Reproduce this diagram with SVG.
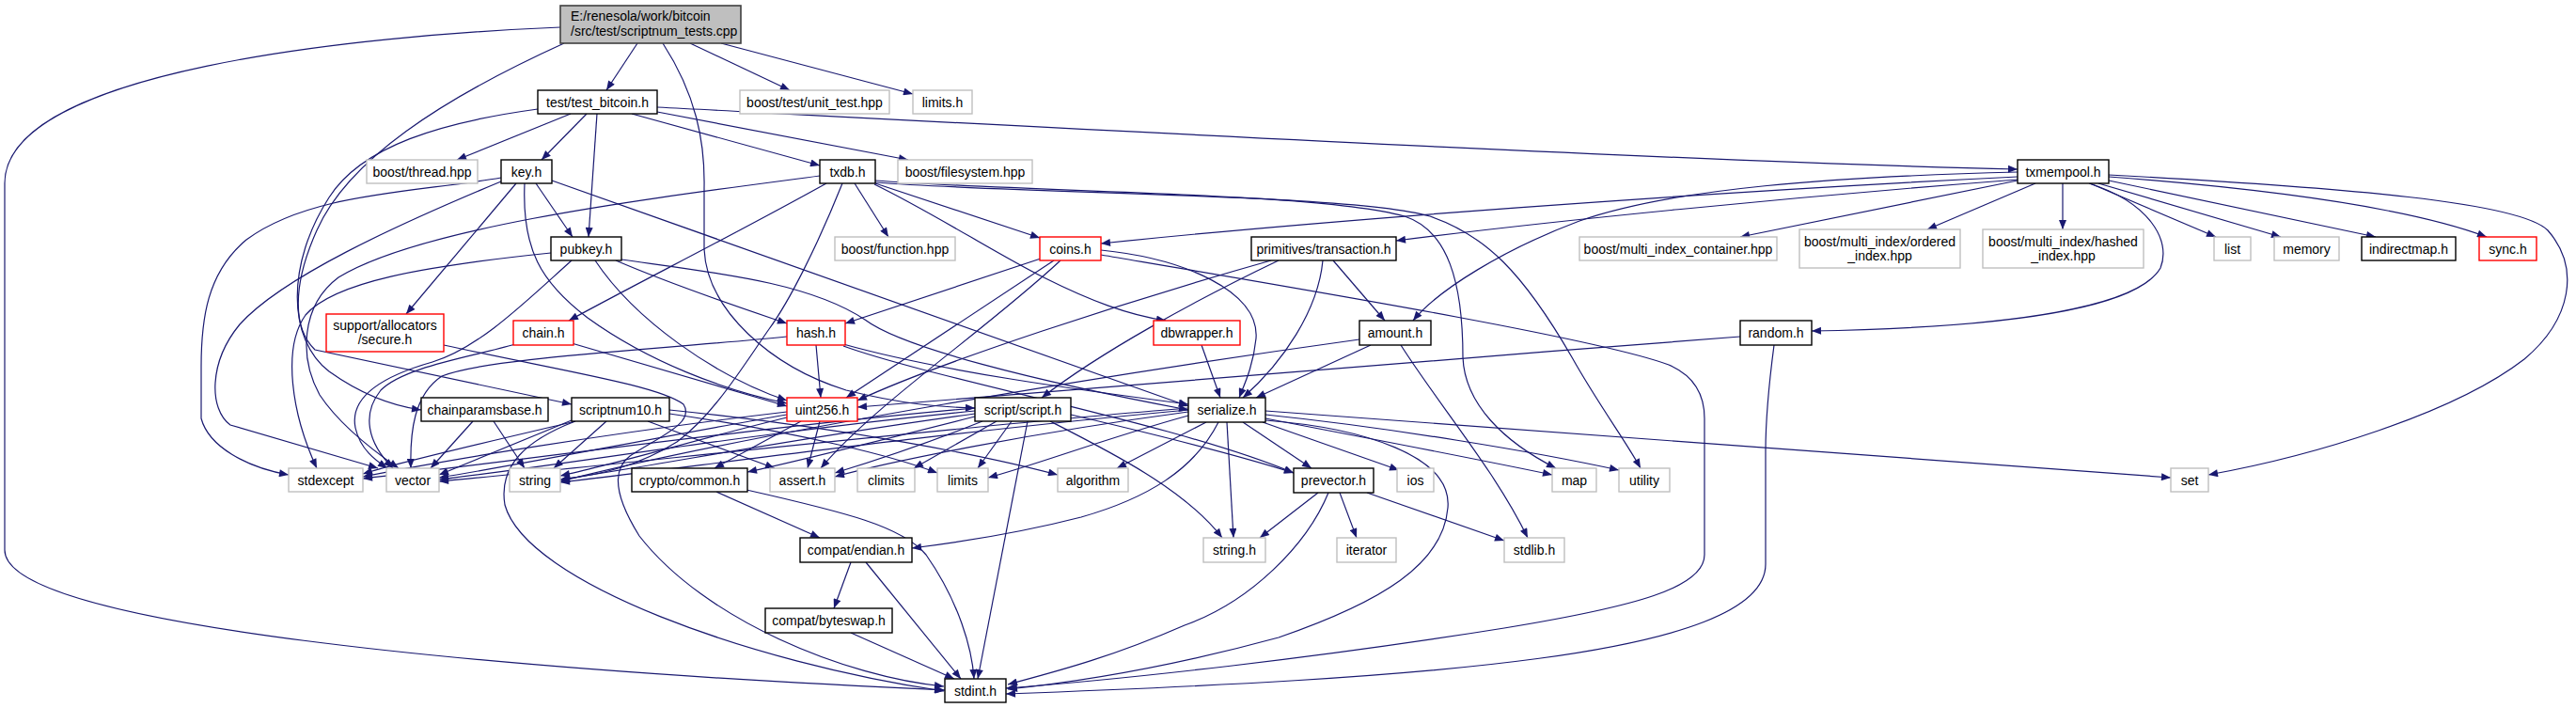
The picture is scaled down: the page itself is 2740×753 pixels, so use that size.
<svg xmlns="http://www.w3.org/2000/svg" width="2740" height="753" viewBox="0 0 2740 753">
<style>
rect{fill:#fff;stroke:#000;stroke-width:1.4}
.g rect{stroke:#bfbfbf}
.r rect{stroke:#ff0000}
.m rect{fill:#bfbfbf;stroke:#404040;stroke-width:1.6}
text{font-family:"Liberation Sans",Arial,sans-serif;font-size:14px;text-anchor:middle;fill:#000}
.m text{text-anchor:start}
#edges path{fill:none;stroke:#191970;stroke-width:1.2;marker-end:url(#a)}
</style>
<defs>
<marker id="a" viewBox="0 0 10 8" refX="10" refY="4" markerWidth="11" markerHeight="8" markerUnits="userSpaceOnUse" orient="auto"><path d="M0,0 L10,4 L0,8 z" fill="#191970"/></marker>
</defs>
<rect x="0" y="0" width="2740" height="753" style="fill:#fff;stroke:none"/>
<g id="edges">
<path d="M678,46 L645,96"/>
<path d="M734,46 L840,96"/>
<path d="M767,46 L971,100"/>
<path d="M596,29 C380,38 5,75 5,195 L5,585 C5,665 520,712 1005,734"/>
<path d="M600,46 C470,105 370,170 337,245 C310,305 312,350 335,372 L608,430"/>
<path d="M705,46 C740,100 750,150 749,200 L749,265 C752,330 820,390 900,415 C960,430 1000,433 1037,434"/>
<path d="M607,121 L486,170"/>
<path d="M624,121 L576,170"/>
<path d="M635,121 L626,252"/>
<path d="M672,121 L872,176"/>
<path d="M699,119 L966,170"/>
<path d="M699,114 C1200,140 1800,172 2146,180"/>
<path d="M572,116 C470,130 385,155 350,210 C305,280 305,360 350,395 C385,420 420,432 448,436"/>
<path d="M549,195 L432,334"/>
<path d="M570,195 L609,252"/>
<path d="M587,192 L1264,432"/>
<path d="M558,195 C555,265 575,300 625,338 C690,385 770,415 837,429"/>
<path d="M533,189 C440,205 330,205 262,255 C220,290 214,340 214,390 L214,445 C222,475 262,497 307,505"/>
<path d="M533,193 C420,240 300,295 255,345 C222,385 222,435 245,452 L402,498"/>
<path d="M655,277 C720,305 790,328 837,344"/>
<path d="M661,276 C760,290 860,300 920,340 C960,370 1100,405 1264,436"/>
<path d="M633,277 C675,340 760,400 837,426"/>
<path d="M586,269 C450,283 355,300 325,335 C300,370 310,440 337,498"/>
<path d="M608,277 C560,320 510,370 460,385 C400,402 372,425 378,455 C383,478 400,490 412,498"/>
<path d="M909,195 L945,252"/>
<path d="M931,195 L1106,253"/>
<path d="M930,196 C990,225 1060,270 1110,295 C1160,320 1200,335 1240,341"/>
<path d="M879,195 C780,250 680,300 605,341"/>
<path d="M931,192 C1100,205 1400,204 1494,230 C1540,245 1556,300 1556,380 C1558,430 1600,470 1655,498"/>
<path d="M931,194 C1100,207 1440,206 1521,230 C1580,250 1620,290 1672,380 C1700,430 1730,470 1745,498"/>
<path d="M872,187 C700,210 450,240 360,295 C320,325 318,380 340,420 C360,450 395,478 424,498"/>
<path d="M896,195 C870,260 840,320 818,350 C790,390 760,440 720,470 C680,495 640,505 596,510"/>
<path d="M1107,275 L899,344"/>
<path d="M1121,277 L900,423"/>
<path d="M1128,277 C1050,350 930,430 873,498"/>
<path d="M1171,266 C1260,275 1340,310 1336,360 C1333,390 1323,410 1318,423"/>
<path d="M1171,271 C1400,310 1700,360 1775,388 C1803,400 1813,420 1813,445 L1813,590 C1813,625 1740,645 1600,668 C1400,700 1200,722 1070,732"/>
<path d="M1418,277 L1473,341"/>
<path d="M1407,277 C1402,330 1365,385 1322,423"/>
<path d="M1360,277 C1270,320 1170,375 1108,423"/>
<path d="M1352,277 C1200,320 1000,385 912,426"/>
<path d="M1458,367 L1336,423"/>
<path d="M1490,367 C1530,430 1590,500 1625,572"/>
<path d="M1446,361 C1200,395 800,460 596,512"/>
<path d="M2146,192 L1851,252"/>
<path d="M2165,195 L2050,244"/>
<path d="M2194,195 L2194,244"/>
<path d="M2223,195 L2357,252"/>
<path d="M2232,195 L2426,252"/>
<path d="M2243,192 L2527,252"/>
<path d="M2243,188 C2400,200 2560,220 2645,252"/>
<path d="M2243,186 C2500,200 2680,215 2710,245 C2745,285 2735,340 2685,382 C2610,440 2460,485 2349,505"/>
<path d="M2222,195 C2285,215 2310,255 2298,285 C2275,325 2150,348 1927,352"/>
<path d="M2146,188 C1800,205 1400,235 1171,259"/>
<path d="M2146,191 C1900,210 1650,235 1485,256"/>
<path d="M2146,183 C1950,188 1780,200 1680,235 C1600,265 1530,308 1503,341"/>
<path d="M1851,358 C1500,385 1100,418 912,433"/>
<path d="M1887,367 C1880,420 1878,450 1878,480 L1878,600 C1878,700 1500,722 1070,738"/>
<path d="M1278,367 L1298,423"/>
<path d="M608,365 L837,432"/>
<path d="M548,366 C500,380 430,390 405,415 C385,440 390,470 418,498"/>
<path d="M868,367 L873,423"/>
<path d="M897,366 C1000,395 1150,415 1264,430"/>
<path d="M897,368 C1000,405 1250,450 1376,503"/>
<path d="M837,358 C700,372 520,380 470,400 C440,420 436,460 437,498"/>
<path d="M472,367 C600,395 700,410 727,430 C740,450 700,465 670,485 C650,500 655,530 680,570 C750,660 900,720 1004,730"/>
<path d="M503,448 L458,498"/>
<path d="M525,448 L558,498"/>
<path d="M645,448 L589,498"/>
<path d="M608,447 L467,505"/>
<path d="M612,448 C520,470 430,490 386,504"/>
<path d="M689,448 L824,498"/>
<path d="M712,440 C850,460 950,485 997,503"/>
<path d="M712,436 C900,455 1050,485 1125,505"/>
<path d="M612,448 C560,468 530,495 537,537 C560,620 800,705 1004,735"/>
<path d="M852,448 L760,498"/>
<path d="M872,448 L859,498"/>
<path d="M837,438 C650,460 470,490 386,507"/>
<path d="M837,441 C700,465 550,495 467,508"/>
<path d="M837,444 C750,465 650,495 596,506"/>
<path d="M1093,448 L1040,722"/>
<path d="M1117,448 C1180,480 1260,520 1300,572"/>
<path d="M1076,448 L1040,498"/>
<path d="M1060,448 L972,498"/>
<path d="M1045,448 C990,470 930,490 888,503"/>
<path d="M1037,443 C950,465 850,490 795,502"/>
<path d="M1139,441 C1220,460 1320,485 1376,503"/>
<path d="M1037,437 C800,460 600,495 467,510"/>
<path d="M1037,440 C850,465 700,495 596,510"/>
<path d="M1037,434 C800,455 550,490 386,509"/>
<path d="M1283,449 L1188,498"/>
<path d="M1264,438 C1100,460 950,490 888,507"/>
<path d="M1264,442 C1180,465 1100,495 1051,508"/>
<path d="M1322,449 L1395,498"/>
<path d="M1343,449 L1488,500"/>
<path d="M1346,445 C1450,465 1580,490 1651,505"/>
<path d="M1346,441 C1480,455 1630,480 1722,500"/>
<path d="M1346,437 L2309,508"/>
<path d="M1305,449 L1312,572"/>
<path d="M1296,449 C1270,500 1220,530 1150,550 C1080,568 1010,578 970,583"/>
<path d="M1346,447 C1450,455 1545,485 1540,540 C1535,600 1470,640 1360,678 C1250,708 1150,725 1072,733"/>
<path d="M1264,434 C1000,455 650,495 467,512"/>
<path d="M1264,436 C1000,460 750,495 596,513"/>
<path d="M1425,524 L1443,572"/>
<path d="M1454,524 L1600,575"/>
<path d="M1402,524 L1340,572"/>
<path d="M1413,524 C1390,580 1330,640 1260,665 C1180,700 1120,715 1072,728"/>
<path d="M762,523 L872,572"/>
<path d="M794,521 C900,545 960,560 985,590 C1020,640 1034,690 1036,722"/>
<path d="M905,598 L887,647"/>
<path d="M921,598 L1022,722"/>
<path d="M905,673 L1015,722"/>
</g>
<g id="n_main" class="m"><rect x="596" y="6" width="192" height="40"/><text x="607" y="22">E:/renesola/work/bitcoin</text><text x="607" y="38">/src/test/scriptnum_tests.cpp</text></g>
<g id="n_test_bitcoin"><rect x="572" y="96" width="127" height="25"/><text x="635.5" y="113.5">test/test_bitcoin.h</text></g>
<g id="n_unit_test" class="g"><rect x="787" y="96" width="159" height="25"/><text x="866.5" y="113.5">boost/test/unit_test.hpp</text></g>
<g id="n_limits_h" class="g"><rect x="971" y="96" width="63" height="25"/><text x="1002.5" y="113.5">limits.h</text></g>
<g id="n_thread" class="g"><rect x="390" y="170" width="118" height="25"/><text x="449" y="187.5">boost/thread.hpp</text></g>
<g id="n_key"><rect x="533" y="170" width="54" height="25"/><text x="560" y="187.5">key.h</text></g>
<g id="n_txdb"><rect x="872" y="170" width="59" height="25"/><text x="901.5" y="187.5">txdb.h</text></g>
<g id="n_filesystem" class="g"><rect x="955" y="170" width="143" height="25"/><text x="1026.5" y="187.5">boost/filesystem.hpp</text></g>
<g id="n_txmempool"><rect x="2146" y="170" width="97" height="25"/><text x="2194.5" y="187.5">txmempool.h</text></g>
<g id="n_pubkey"><rect x="586" y="252" width="75" height="25"/><text x="623.5" y="269.5">pubkey.h</text></g>
<g id="n_function" class="g"><rect x="888" y="252" width="128" height="25"/><text x="952" y="269.5">boost/function.hpp</text></g>
<g id="n_coins" class="r"><rect x="1106" y="252" width="65" height="25"/><text x="1138.5" y="269.5">coins.h</text></g>
<g id="n_transaction"><rect x="1331" y="252" width="154" height="25"/><text x="1408" y="269.5">primitives/transaction.h</text></g>
<g id="n_mic" class="g"><rect x="1680" y="252" width="210" height="25"/><text x="1785" y="269.5">boost/multi_index_container.hpp</text></g>
<g id="n_ordered" class="g"><rect x="1914" y="244" width="171" height="41"/><text x="1999.5" y="262">boost/multi_index/ordered</text><text x="1999.5" y="277">_index.hpp</text></g>
<g id="n_hashed" class="g"><rect x="2109" y="244" width="171" height="41"/><text x="2194.5" y="262">boost/multi_index/hashed</text><text x="2194.5" y="277">_index.hpp</text></g>
<g id="n_list" class="g"><rect x="2355" y="252" width="39" height="25"/><text x="2374.5" y="269.5">list</text></g>
<g id="n_memory" class="g"><rect x="2419" y="252" width="69" height="25"/><text x="2453.5" y="269.5">memory</text></g>
<g id="n_indirectmap"><rect x="2512" y="252" width="100" height="25"/><text x="2562" y="269.5">indirectmap.h</text></g>
<g id="n_sync" class="r"><rect x="2637" y="252" width="61" height="25"/><text x="2667.5" y="269.5">sync.h</text></g>
<g id="n_secure" class="r"><rect x="347" y="334" width="125" height="40"/><text x="409.5" y="351">support/allocators</text><text x="409.5" y="366">/secure.h</text></g>
<g id="n_chain" class="r"><rect x="546" y="341" width="64" height="26"/><text x="578" y="359">chain.h</text></g>
<g id="n_hash" class="r"><rect x="837" y="341" width="62" height="26"/><text x="868" y="359">hash.h</text></g>
<g id="n_dbwrapper" class="r"><rect x="1227" y="341" width="92" height="26"/><text x="1273" y="359">dbwrapper.h</text></g>
<g id="n_amount"><rect x="1446" y="341" width="76" height="26"/><text x="1484" y="359">amount.h</text></g>
<g id="n_random"><rect x="1851" y="341" width="76" height="26"/><text x="1889" y="359">random.h</text></g>
<g id="n_chainparamsbase"><rect x="448" y="423" width="135" height="25"/><text x="515.5" y="440.5">chainparamsbase.h</text></g>
<g id="n_scriptnum10"><rect x="608" y="423" width="104" height="25"/><text x="660" y="440.5">scriptnum10.h</text></g>
<g id="n_uint256" class="r"><rect x="837" y="423" width="75" height="25"/><text x="874.5" y="440.5">uint256.h</text></g>
<g id="n_script"><rect x="1037" y="423" width="102" height="25"/><text x="1088" y="440.5">script/script.h</text></g>
<g id="n_serialize"><rect x="1264" y="423" width="82" height="26"/><text x="1305" y="441">serialize.h</text></g>
<g id="n_stdexcept" class="g"><rect x="307" y="498" width="79" height="25"/><text x="346.5" y="515.5">stdexcept</text></g>
<g id="n_vector" class="g"><rect x="411" y="498" width="56" height="25"/><text x="439" y="515.5">vector</text></g>
<g id="n_string" class="g"><rect x="542" y="498" width="54" height="25"/><text x="569" y="515.5">string</text></g>
<g id="n_crypto_common"><rect x="672" y="498" width="123" height="25"/><text x="733.5" y="515.5">crypto/common.h</text></g>
<g id="n_assert" class="g"><rect x="819" y="498" width="69" height="25"/><text x="853.5" y="515.5">assert.h</text></g>
<g id="n_climits" class="g"><rect x="912" y="498" width="61" height="25"/><text x="942.5" y="515.5">climits</text></g>
<g id="n_limits" class="g"><rect x="997" y="498" width="54" height="25"/><text x="1024" y="515.5">limits</text></g>
<g id="n_algorithm" class="g"><rect x="1125" y="498" width="75" height="25"/><text x="1162.5" y="515.5">algorithm</text></g>
<g id="n_prevector"><rect x="1376" y="498" width="85" height="26"/><text x="1418.5" y="516">prevector.h</text></g>
<g id="n_ios" class="g"><rect x="1486" y="498" width="39" height="25"/><text x="1505.5" y="515.5">ios</text></g>
<g id="n_map" class="g"><rect x="1651" y="498" width="47" height="25"/><text x="1674.5" y="515.5">map</text></g>
<g id="n_utility" class="g"><rect x="1722" y="498" width="54" height="25"/><text x="1749" y="515.5">utility</text></g>
<g id="n_set" class="g"><rect x="2309" y="498" width="40" height="25"/><text x="2329" y="515.5">set</text></g>
<g id="n_endian"><rect x="851" y="572" width="119" height="26"/><text x="910.5" y="590">compat/endian.h</text></g>
<g id="n_string_h" class="g"><rect x="1280" y="572" width="66" height="26"/><text x="1313" y="590">string.h</text></g>
<g id="n_iterator" class="g"><rect x="1422" y="572" width="63" height="26"/><text x="1453.5" y="590">iterator</text></g>
<g id="n_stdlib" class="g"><rect x="1600" y="572" width="64" height="26"/><text x="1632" y="590">stdlib.h</text></g>
<g id="n_byteswap"><rect x="814" y="647" width="135" height="26"/><text x="881.5" y="665">compat/byteswap.h</text></g>
<g id="n_stdint"><rect x="1005" y="722" width="65" height="25"/><text x="1037.5" y="739.5">stdint.h</text></g>
</svg>
